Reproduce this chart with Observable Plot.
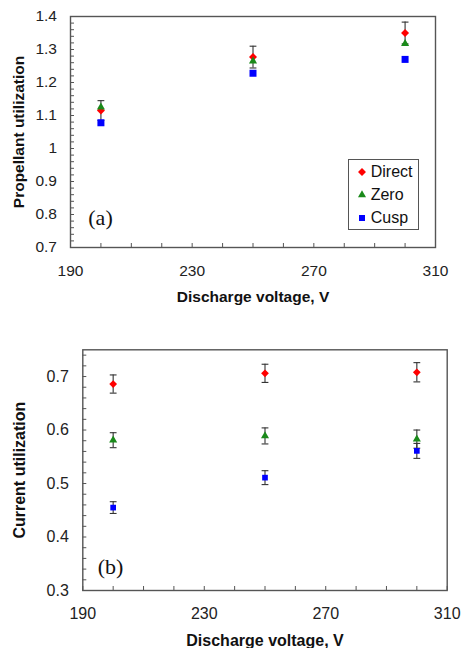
<!DOCTYPE html>
<html><head><meta charset="utf-8">
<script src="https://cdn.jsdelivr.net/npm/d3@7"></script>
<script src="https://cdn.jsdelivr.net/npm/@observablehq/plot@0.6"></script>
<style>
body{margin:0;background:#fff;}
#wrap{position:relative;width:461px;height:648px;overflow:hidden;font-family:"Liberation Sans",Arial,sans-serif;background:#fff;}
#wrap svg{position:absolute;left:0;}
#legend{position:absolute;box-sizing:border-box;border:1.3px solid #555;background:#fff;}
#legend .row{position:absolute;left:0;height:20px;display:flex;align-items:center;font-size:16px;color:#111;}
#legend .row svg{position:static;}
</style></head><body><div id="wrap"></div>
<script>
// ---- data ----
const voltages = [200, 250, 300];
const seriesNames = ["Direct", "Zero", "Cusp"];
const seriesColors = ["#ff0000", "#1a8a1a", "#0000ff"];

const propDirect = [1.115, 1.277, 1.35];
const propDirectErr = [0.03, 0.033, 0.033];
const propZero = [1.125, 1.265, 1.318];
const propCusp = [1.078, 1.228, 1.27];

const curDirect = [0.686, 0.706, 0.708];
const curDirectErr = [0.017, 0.017, 0.018];
const curZero = [0.581, 0.589, 0.583];
const curZeroErr = [0.014, 0.015, 0.017];
const curCusp = [0.455, 0.511, 0.561];
const curCuspErr = [0.011, 0.013, 0.014];

const xTickLabels = [190, 230, 270, 310];
const propTickLabels = [0.7, 0.8, 0.9, 1, 1.1, 1.2, 1.3, 1.4];
const curTickLabels = [0.3, 0.4, 0.5, 0.6, 0.7];
const xLabel = "Discharge voltage, V";
const propLabel = "Propellant utilization";
const curLabel = "Current utilization";

// ---- helpers ----
const capSymbol = {draw(ctx, size) { const r = Math.sqrt(size / Math.PI); ctx.moveTo(-r, 0); ctx.lineTo(r, 0); }};
const symbolsBySeries = [d3.symbolDiamond2, d3.symbolTriangle, d3.symbolSquare];
const rows = (vals, errs) => voltages.map((v, i) => ({x: v, y: vals[i], e: errs ? errs[i] : null}));
const minorRange = (a, b, s) => d3.range(Math.round((b - a) / s) + 1).map(i => +(a + i * s).toFixed(4));
const fmt = d3.format("~g");

function panel(o) {
  const pw = 461 - o.ml - o.mr, ph = o.height - o.mt - o.mb;
  const marks = [
    Plot.tickY(minorRange(o.yDomain[0], o.yDomain[1], 0.02).filter(d => d < o.yDomain[1]), {y: d => d, insetRight: pw - 4, stroke: "#555", strokeWidth: 1}),
    Plot.tickX(minorRange(190, 310, 10), {x: d => d, insetTop: ph - 4, stroke: "#555", strokeWidth: 1}),
    Plot.frame({stroke: "#555", strokeWidth: 1.4}),
    Plot.axisY({ticks: o.yTicks, tickSize: 0, tickPadding: o.yPad, tickFormat: fmt, label: null, fontSize: o.fs, fill: "#222"}),
    Plot.axisX({ticks: xTickLabels, tickSize: 0, tickPadding: 17.5, tickFormat: fmt, label: null, fontSize: o.fs, fill: "#222"}),
    Plot.text([o.yLabel], {text: d => d, frameAnchor: "left", rotate: -90, dx: o.yLabelDx, textAnchor: "middle", lineAnchor: "top", fontWeight: "bold", fontSize: o.lfs, fill: "#111"}),
    Plot.text([xLabel], {text: d => d, frameAnchor: "bottom", dy: o.xLabelDy, textAnchor: "middle", lineAnchor: "middle", fontWeight: "bold", fontSize: o.lfs, fill: "#111"}),
    Plot.text([o.tag], {text: d => d, frameAnchor: "bottom-left", dx: o.tagDx, dy: o.tagDy, textAnchor: "middle", lineAnchor: "middle", fontFamily: "Liberation Serif, Times New Roman, serif", fontSize: 22, fill: "#111"})
  ];
  o.series.forEach((s, k) => {
    const data = rows(s.vals, s.errs);
    if (s.errs) {
      marks.push(Plot.ruleX(data, {x: "x", y1: d => d.y - d.e, y2: d => d.y + d.e, stroke: "#333", strokeWidth: 1.1}));
      marks.push(Plot.dot(data, {x: "x", y: d => d.y + d.e, symbol: capSymbol, r: 3.4, stroke: "#333", strokeWidth: 1.1, fill: "none"}));
      marks.push(Plot.dot(data, {x: "x", y: d => d.y - d.e, symbol: capSymbol, r: 3.4, stroke: "#333", strokeWidth: 1.1, fill: "none"}));
    }
  });
  o.series.forEach((s, k) => {
    marks.push(Plot.dot(rows(s.vals), {x: "x", y: "y", symbol: symbolsBySeries[k], r: s.r, fill: seriesColors[k], stroke: "none"}));
  });
  const svg = Plot.plot({
    width: 461, height: o.height,
    marginLeft: o.ml, marginRight: o.mr, marginTop: o.mt, marginBottom: o.mb,
    x: {domain: [190, 310]},
    y: {domain: o.yDomain},
    style: {fontFamily: "Liberation Sans, Arial, sans-serif", fontSize: o.fs + "px", color: "#222", background: "transparent", overflow: "visible"},
    marks
  });
  svg.style.top = o.top + "px";
  return svg;
}

const wrap = document.getElementById("wrap");
wrap.appendChild(panel({
  top: 0, height: 310, ml: 70, mr: 26, mt: 16, mb: 63,
  yDomain: [0.7, 1.4], yTicks: propTickLabels, yPad: 13.5, fs: 15.5, lfs: 15.5,
  yLabel: propLabel, yLabelDx: -58, xLabelDy: 49.7,
  tag: "(a)", tagDx: 30, tagDy: -29.5,
  series: [
    {vals: propDirect, errs: propDirectErr, r: 3.6},
    {vals: propZero, errs: null, r: 3.0},
    {vals: propCusp, errs: null, r: 3.95}
  ]
}));
wrap.appendChild(panel({
  top: 320, height: 328, ml: 82.3, mr: 14.3, mt: 29.3, mb: 58,
  yDomain: [0.3, 0.75], yTicks: curTickLabels, yPad: 14, fs: 16, lfs: 16,
  yLabel: curLabel, yLabelDx: -69.6, xLabelDy: 50,
  tag: "(b)", tagDx: 27.7, tagDy: -24,
  series: [
    {vals: curDirect, errs: curDirectErr, r: 3.5},
    {vals: curZero, errs: curZeroErr, r: 3.0},
    {vals: curCusp, errs: curCuspErr, r: 3.2}
  ]
}));

// ---- legend (inside panel a) ----
const legend = document.createElement("div");
legend.id = "legend";
Object.assign(legend.style, {left: "347.7px", top: "159.3px", width: "71px", height: "70.7px"});
const legendSizes = [40, 28, 36];
seriesNames.forEach((name, k) => {
  const row = document.createElement("div");
  row.className = "row";
  row.style.top = (2 + k * 23) + "px";
  const s = d3.create("svg").attr("width", 22).attr("height", 20);
  s.append("path").attr("transform", "translate(13,10)").attr("d", d3.symbol(symbolsBySeries[k], legendSizes[k])()).attr("fill", seriesColors[k]);
  row.appendChild(s.node());
  const t = document.createElement("span");
  t.textContent = name;
  row.appendChild(t);
  legend.appendChild(row);
});
wrap.appendChild(legend);
</script></body></html>
